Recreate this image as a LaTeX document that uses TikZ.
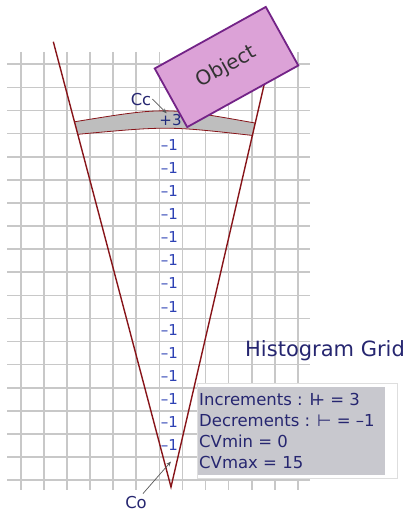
\documentclass[tikz,border=0pt]{standalone}
\usepackage{fontspec}
\setmainfont{DejaVu Sans}
\usetikzlibrary{arrows.meta}
\definecolor{gridc}{RGB}{200,200,200}
\definecolor{vred}{RGB}{135,20,25}
\definecolor{bandc}{RGB}{190,190,190}
\definecolor{navy}{RGB}{38,38,112}
\definecolor{numc}{RGB}{45,65,180}
\definecolor{plusc}{RGB}{32,42,125}
\definecolor{objfill}{RGB}{220,162,215}
\definecolor{objdraw}{RGB}{115,35,135}
\definecolor{infoc}{RGB}{200,200,206}
\definecolor{infoedge}{RGB}{222,222,222}
\begin{document}
\begin{tikzpicture}[x=1pt,y=-1pt,
  gridline/.style={gridc,line width=1.6pt},
  vline/.style={vred,line width=1.4pt,line join=miter},
  arcline/.style={vred,line width=0.8pt},
  numlbl/.style={numc,font=\fontsize{15}{15}\selectfont,inner sep=0pt,anchor=base},
  callout/.style={navy,font=\fontsize{16.4}{16.4}\selectfont,inner sep=0pt,anchor=base},
  infotext/.style={navy,font=\fontsize{16.5}{16.5}\selectfont,inner sep=0pt,anchor=base west},
  pointer/.style={black!65,line width=0.7pt,-{Stealth[length=5pt,width=4pt]}},
  objbox/.style={draw=objdraw,fill=objfill,line width=1.8pt,minimum width=127pt,minimum height=67pt,inner sep=0pt,text=black!80,font=\fontsize{20}{20}\selectfont}
  ]
\useasboundingbox (0,0) rectangle (408,511);
% grid
\foreach \i in {0,...,12} \draw[gridline] ({20.7+23.1*\i},52) -- ({20.7+23.1*\i},490);
\foreach \j in {0,...,18} \draw[gridline] (7,{64.3+23.1*\j}) -- (310,{64.3+23.1*\j});
% key points
\coordinate (apex) at (171,487);
\coordinate (ltop) at (53.3,41.7);
\coordinate (rtop) at (274,42);
\coordinate (bul) at (75,121.7);
\coordinate (bur) at (255,123);
\coordinate (bll) at (78,134.3);
\coordinate (blr) at (253,135.5);
% band
\fill[bandc] (bul) .. controls (165,107) .. (bur) -- (blr) .. controls (168,126) .. (bll) -- cycle;
\draw[arcline] (bul) .. controls (165,107) .. (bur);
\draw[arcline] (bll) .. controls (168,126) .. (blr);
% V lines
\draw[vline] (ltop) -- (apex) -- (rtop);
% counts
\node[numlbl,text=plusc] (n0) at (170.5,125.9) {+3};
\foreach \k in {1,...,14} \node[numlbl] (n\k) at (169.5,{150.3+23.1*(\k-1)}) {–1};
% labels
\node[callout] (cc) at (141,105) {Cc};
\node[callout] (co) at (136,508) {Co};
\coordinate (cctip) at (166.7,113.3);
\coordinate (cotip) at (171,461.5);
\draw[pointer] (cc.east) ++(1,0) coordinate (ccs) -- (cctip);
\draw[pointer] (co.north east) ++(-4,-2) coordinate (cos) -- (cotip);
% object
\node[objbox,rotate=29] (obj) at (226.5,67) {Object};
% title
\node[navy,font=\fontsize{21}{21}\selectfont,inner sep=0pt,anchor=base west] (title) at (245,356.4) {Histogram Grid};
% info box
\node[draw=infoedge,fill=white,line width=0.8pt,minimum width=200pt,minimum height=94.7pt,inner sep=0pt,anchor=north west] (infoback) at (196.7,383.3) {};
\node[fill=infoc,minimum width=187pt,minimum height=88.3pt,inner sep=0pt,anchor=north west] (info) at (198,386.7) {};
\node[infotext] (i1) at (199,405) {Increments : I\kern-0.2em+ = 3};
\node[infotext] (i2) at (199,426.3) {Decrements : ⊢ = –1};
\node[infotext] (i3) at (199,447.6) {CVmin = 0};
\node[infotext] (i4) at (199,468.6) {CVmax = 15};
\end{tikzpicture}
\end{document}
